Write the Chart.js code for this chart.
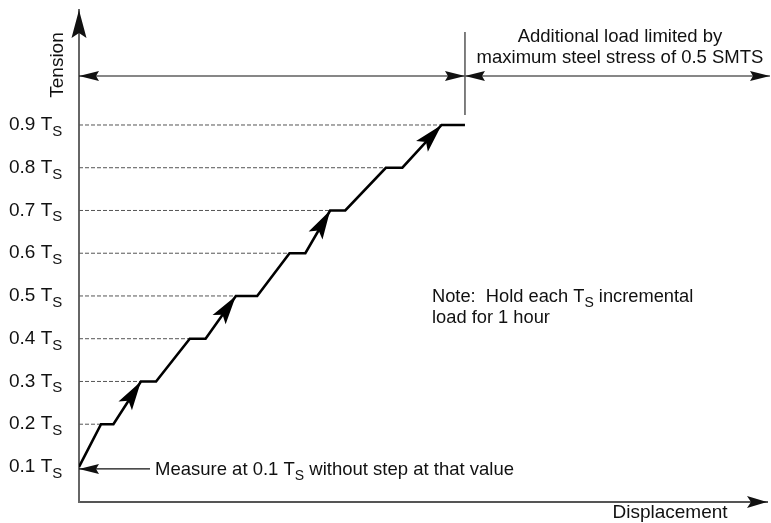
<!DOCTYPE html>
<html lang="en">
<head>
<meta charset="UTF-8">
<title>Tension vs Displacement - Load Steps</title>
<script src="https://cdn.jsdelivr.net/npm/chart.js"></script>
<style>
  html, body { margin: 0; padding: 0; background: #fff; }
  #wrap { width: 771px; height: 523px; }
</style>
</head>
<body>
<div id="wrap"><canvas id="loadChart"></canvas></div>
<script>
  // tension levels (fraction of T_S) and their axis labels
  const levels = [0.1, 0.2, 0.3, 0.4, 0.5, 0.6, 0.7, 0.8, 0.9];
  const tickLabels = ['0.1 T', '0.2 T', '0.3 T', '0.4 T', '0.5 T', '0.6 T', '0.7 T', '0.8 T', '0.9 T'];
  // displacement where each hold starts / ends (0.1 has no step)
  const holdStart = [0, 3.2, 9.0, 16.1, 22.8, 30.6, 36.5, 44.6, 52.7];
  const holdEnd   = [0, 5.0, 11.2, 18.4, 25.9, 32.9, 38.7, 47.0, 56.1];
  // rises that carry a direction arrow (arrow tip at that level)
  const arrowLevels = [0.3, 0.5, 0.7, 0.9];

  const FONT = '"Liberation Sans", Arial, sans-serif';

  // build the stepped loading path
  const pathPts = [];
  levels.forEach((v, i) => {
    pathPts.push({ x: holdStart[i], y: v });
    if (holdEnd[i] !== holdStart[i]) pathPts.push({ x: holdEnd[i], y: v });
  });

  const datasets = [{
    data: pathPts,
    borderColor: '#000',
    borderWidth: 2.6,
    pointRadius: 0,
    tension: 0,
    borderJoinStyle: 'miter'
  }];

  // thin dashed guides from the axis to the start of each hold
  levels.forEach((v, i) => {
    if (i === 0) return;
    datasets.push({
      data: [{ x: 0, y: v }, { x: holdStart[i], y: v }],
      borderColor: '#555',
      borderWidth: 1,
      borderDash: [4, 2],
      pointRadius: 0
    });
  });

  function arrowHead(ctx, x, y, angle, len, half, notch) {
    ctx.save();
    ctx.translate(x, y);
    ctx.rotate(angle);
    ctx.beginPath();
    ctx.moveTo(0, 0);
    ctx.lineTo(-len, -half);
    ctx.lineTo(-len + notch, 0);
    ctx.lineTo(-len, half);
    ctx.closePath();
    ctx.fill();
    ctx.restore();
  }

  // text with a subscript part, e.g. T_S
  function richText(ctx, x, y, parts, size) {
    let cx = x;
    parts.forEach(p => {
      ctx.font = (p.sub ? Math.round(size * 0.78) : size) + 'px ' + FONT;
      ctx.fillText(p.t, cx, p.sub ? y + size * 0.36 : y);
      cx += ctx.measureText(p.t).width;
    });
    return cx - x;
  }

  const notesPlugin = {
    id: 'notes',
    afterDatasetsDraw(chart) {
      const ctx = chart.ctx;
      const xs = chart.scales.x, ys = chart.scales.y;
      const area = chart.chartArea;
      ctx.save();
      ctx.fillStyle = '#000';
      ctx.strokeStyle = '#000';

      // arrows along the loading path
      arrowLevels.forEach(v => {
        const i = levels.indexOf(v);
        const tx = xs.getPixelForValue(holdStart[i]), ty = ys.getPixelForValue(v);
        const fx = xs.getPixelForValue(holdEnd[i - 1]), fy = ys.getPixelForValue(levels[i - 1]);
        arrowHead(ctx, tx, ty, Math.atan2(ty - fy, tx - fx), 29, 8, 6);
      });

      // axis arrowheads
      ctx.fillStyle = '#111';
      arrowHead(ctx, area.left, area.top, -Math.PI / 2, 28, 7.5, 5);
      arrowHead(ctx, area.right, area.bottom, 0, 20, 6, 4);

      // axis titles
      ctx.fillStyle = '#111';
      ctx.textBaseline = 'middle';
      ctx.save();
      ctx.translate(58, 65);
      ctx.rotate(-Math.PI / 2);
      ctx.textAlign = 'center';
      ctx.font = '19px ' + FONT;
      ctx.fillText('Tension', 0, 0);
      ctx.restore();
      ctx.textAlign = 'center';
      ctx.font = '19px ' + FONT;
      ctx.fillText('Displacement', 670, 513);

      // tension tick labels
      ctx.textAlign = 'left';
      levels.forEach((v, i) => {
        const y = ys.getPixelForValue(v);
        richText(ctx, 9, y, [{ t: tickLabels[i] }, { t: 'S', sub: true }], 19);
      });

      // dimension line above the chart
      const dimY = 76;
      const markX = xs.getPixelForValue(holdEnd[holdEnd.length - 1]);
      ctx.strokeStyle = '#111';
      ctx.lineWidth = 1.2;
      ctx.beginPath();
      ctx.moveTo(area.left, dimY);
      ctx.lineTo(770, dimY);
      ctx.stroke();
      arrowHead(ctx, area.left, dimY, Math.PI, 20, 5, 3);
      arrowHead(ctx, markX, dimY, 0, 20, 5, 3);
      arrowHead(ctx, markX, dimY, Math.PI, 20, 5, 3);
      arrowHead(ctx, 770, dimY, 0, 20, 5, 3);
      ctx.strokeStyle = '#555';
      ctx.lineWidth = 1.5;
      ctx.beginPath();
      ctx.moveTo(markX, 32);
      ctx.lineTo(markX, 115);
      ctx.stroke();

      ctx.textAlign = 'center';
      ctx.font = '18.5px ' + FONT;
      ctx.fillText('Additional load limited by', 620, 37);
      ctx.fillText('maximum steel stress of 0.5 SMTS', 620, 58);

      // note about the hold time
      ctx.textAlign = 'left';
      richText(ctx, 432, 297, [{ t: 'Note:  Hold each T' }, { t: 'S', sub: true }, { t: ' incremental' }], 18.3);
      ctx.font = '18.3px ' + FONT;
      ctx.fillText('load for 1 hour', 432, 318);

      // start point callout
      const sy = ys.getPixelForValue(levels[0]);
      ctx.strokeStyle = '#111';
      ctx.lineWidth = 1.2;
      ctx.beginPath();
      ctx.moveTo(area.left, sy + 2);
      ctx.lineTo(150, sy + 2);
      ctx.stroke();
      arrowHead(ctx, area.left, sy + 2, Math.PI, 20, 5, 3);
      richText(ctx, 155, sy + 3, [{ t: 'Measure at 0.1 T' }, { t: 'S', sub: true }, { t: ' without step at that value' }], 18.5);

      ctx.restore();
    }
  };

  new Chart(document.getElementById('loadChart'), {
    type: 'line',
    data: { datasets: datasets },
    plugins: [notesPlugin],
    options: {
      responsive: true,
      maintainAspectRatio: false,
      animation: false,
      layout: { padding: { left: 79, right: 4, top: 10, bottom: 21 } },
      plugins: { legend: { display: false }, tooltip: { enabled: false } },
      scales: {
        x: {
          type: 'linear',
          min: 0,
          max: 100,
          grid: { display: false },
          ticks: { display: false },
          border: { display: true, color: '#555', width: 2 },
          afterFit: s => { s.height = 0; }
        },
        y: {
          type: 'linear',
          min: 0.018,
          max: 1.169,
          grid: { display: false },
          ticks: { display: false },
          border: { display: true, color: '#666', width: 2 },
          afterFit: s => { s.width = 0; }
        }
      }
    }
  });
</script>
</body>
</html>
